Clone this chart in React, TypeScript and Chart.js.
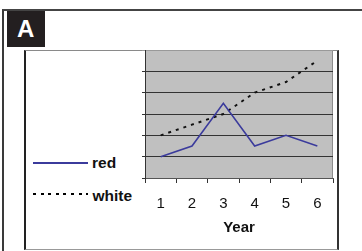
import React, { useEffect, useRef } from "react";
import { Chart, registerables } from "chart.js";

Chart.register(...registerables);

const years = ["1", "2", "3", "4", "5", "6"];
const redValues = [1, 1.5, 3.5, 1.5, 2, 1.5];
const whiteValues = [2, 2.5, 3, 4, 4.5, 5.5];
const seriesNames = ["red", "white"];
const yMin = 0;
const yMax = 6;
const yStep = 1;
const xTitle = "Year";
const panelLabel = "A";

const FONT = "'Liberation Sans', Arial, sans-serif";
const RED_COLOR = "#3b3b9c";
const WHITE_COLOR = "#111111";

const plotBg = {
  id: "plotBg",
  beforeDraw(chart: any) {
    const { ctx, chartArea: a } = chart;
    ctx.save();
    ctx.fillStyle = "#c0c0c0";
    ctx.fillRect(a.left, a.top, a.right - a.left, a.bottom - a.top);
    ctx.strokeStyle = "#8c8c8c";
    ctx.lineWidth = 1;
    ctx.beginPath();
    ctx.moveTo(a.right - 0.5, a.top);
    ctx.lineTo(a.right - 0.5, a.bottom);
    ctx.stroke();
    ctx.restore();
  },
};

export default function App() {
  const ref = useRef<HTMLCanvasElement | null>(null);

  useEffect(() => {
    if (!ref.current) return;
    const chart = new Chart(ref.current, {
      type: "line",
      data: {
        labels: years,
        datasets: [
          {
            label: seriesNames[0],
            data: redValues,
            borderColor: RED_COLOR,
            borderWidth: 1.6,
            pointRadius: 0,
            tension: 0,
            fill: false,
          },
          {
            label: seriesNames[1],
            data: whiteValues,
            borderColor: WHITE_COLOR,
            borderWidth: 2,
            borderDash: [3, 5],
            pointRadius: 0,
            tension: 0,
            fill: false,
          },
        ],
      },
      options: {
        responsive: false,
        animation: false,
        layout: { padding: { left: 142, top: 50, right: 29, bottom: 14 } },
        plugins: { legend: { display: false }, tooltip: { enabled: false } },
        scales: {
          x: {
            offset: true,
            grid: {
              offset: true,
              drawOnChartArea: false,
              drawTicks: true,
              tickLength: 5,
              color: "#333333",
              lineWidth: 1,
            },
            border: { color: "#555555", width: 1 },
            ticks: {
              color: "#111111",
              font: { family: FONT, size: 15 },
              padding: 12,
              maxRotation: 0,
            },
            title: {
              display: true,
              text: xTitle,
              color: "#111111",
              font: { family: FONT, size: 15, weight: "bold" },
              padding: { top: -6, bottom: 0 },
            },
          },
          y: {
            min: yMin,
            max: yMax,
            ticks: { stepSize: yStep, display: false },
            grid: {
              color: (c: any) => (c.tick && c.tick.value === yMax ? "#999999" : "#333333"),
              tickLength: 3,
              drawTicks: true,
              lineWidth: 1,
            },
            border: { color: "#333333", width: 1 },
          },
        },
      },
      plugins: [plotBg],
    } as any);
    return () => chart.destroy();
  }, []);

  const textBase: React.CSSProperties = {
    position: "absolute",
    fontFamily: FONT,
    fontWeight: "bold",
    lineHeight: 1,
    whiteSpace: "nowrap",
    color: "#111",
  };

  return (
    <div
      style={{
        position: "fixed",
        left: 0,
        top: 0,
        width: 362,
        height: 251,
        background: "#fff",
        overflow: "hidden",
      }}
    >
      {/* outer frame */}
      <div
        style={{
          position: "absolute",
          left: 2,
          top: 9,
          width: 420,
          height: 300,
          borderLeft: "2px solid #3a3a3a",
          borderTop: "2px solid #444",
          boxSizing: "border-box",
        }}
      />
      {/* panel label */}
      <div
        style={{
          position: "absolute",
          left: 7,
          top: 11,
          width: 38,
          height: 36,
          background: "#231f20",
        }}
      />
      <span style={{ ...textBase, left: 17, top: 16.5, fontSize: 24, color: "#fff" }}>{panelLabel}</span>
      {/* inner chart frame */}
      <div
        style={{
          position: "absolute",
          left: 24,
          top: 50,
          width: 315,
          height: 200,
          borderLeft: "2px solid #222",
          borderRight: "2px solid #333",
          borderTop: "1px solid #8a8a8a",
          borderBottom: "1px solid #999",
          boxSizing: "border-box",
        }}
      />
      {/* legend */}
      <div style={{ position: "absolute", left: 33, top: 162, width: 55, height: 1.5, background: RED_COLOR }} />
      <span style={{ ...textBase, left: 92, top: 155.2, fontSize: 15.5 }}>{seriesNames[0]}</span>
      <div
        style={{
          position: "absolute",
          left: 33,
          top: 193,
          width: 55,
          height: 2,
          background: "repeating-linear-gradient(to right, #000 0px, #000 3px, transparent 3px, transparent 7.6px)",
        }}
      />
      <span style={{ ...textBase, left: 92.5, top: 187.6, fontSize: 15.5 }}>{seriesNames[1]}</span>
      <canvas
        ref={ref}
        width={362}
        height={251}
        style={{ position: "absolute", left: 0, top: 0, width: 362, height: 251 }}
      />
    </div>
  );
}
